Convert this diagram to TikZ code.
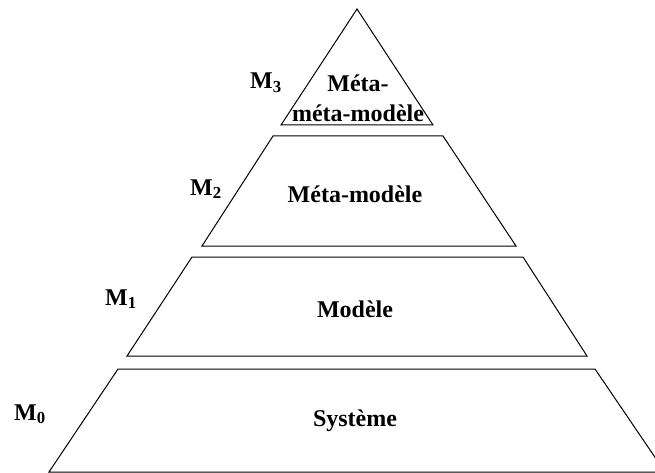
\documentclass[tikz,border=0pt]{standalone}
\usepackage{fontspec}
\setmainfont{Liberation Serif}
\begin{document}
\begin{tikzpicture}[x=1pt,y=-1pt,
  layer/.style={draw=black,line width=1pt,line join=miter},
  title/.style={font=\fontsize{24}{28}\selectfont\bfseries,inner sep=0pt,anchor=base},
  level/.style={font=\fontsize{24}{28}\selectfont\bfseries,inner sep=0pt,anchor=base west}]
\useasboundingbox (0,0) rectangle (655,473);
\begin{scope}
\clip (0,0) rectangle (655,473);
% pyramid layers, top to bottom
\draw[layer] (357,9) -- (433,125) -- (281,125) -- cycle;
\draw[layer] (273,136) -- (443,136) -- (516,246) -- (202,246) -- cycle;
\draw[layer] (192,257) -- (523,257) -- (587,356) -- (127,356) -- cycle;
\draw[layer] (118,369) -- (595,369) -- (665,472) -- (49,472) -- cycle;
\end{scope}
% layer titles
\node[title] (t3a) at (358,92) {Méta-};
\node[title] (t3b) at (358,122) {méta-modèle};
\node[title] (t2) at (355,202) {Méta-modèle};
\node[title] (t1) at (355,317) {Modèle};
\node[title] (t0) at (355,426) {Système};
% level labels
\node[level] (m3) at (250,89) {M\textsubscript{3}};
\node[level] (m2) at (190,195) {M\textsubscript{2}};
\node[level] (m1) at (105,305) {M\textsubscript{1}};
\node[level] (m0) at (14,420) {M\textsubscript{0}};
\end{tikzpicture}
\end{document}
